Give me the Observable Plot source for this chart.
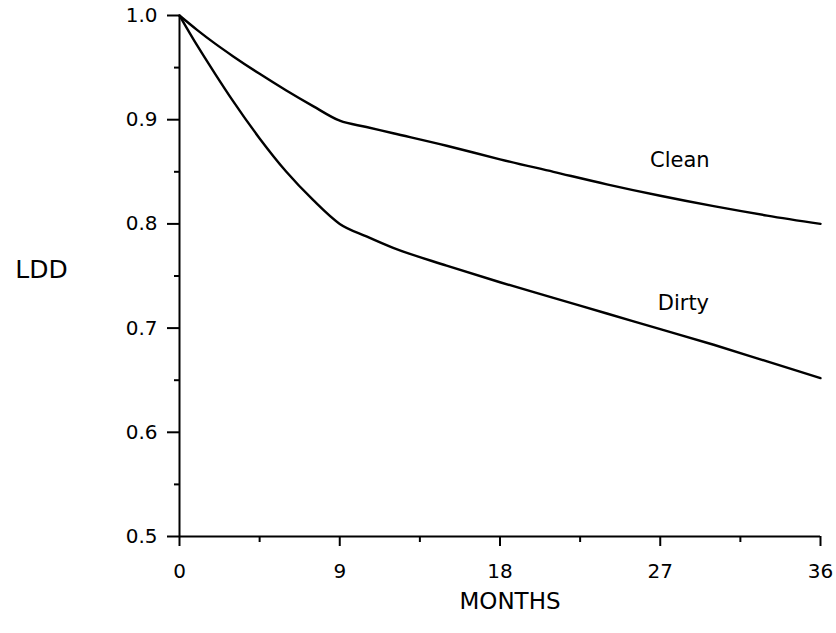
<!DOCTYPE html>
<html><head><meta charset="utf-8">
<script src="https://cdn.jsdelivr.net/npm/d3@7"></script>
<script src="https://cdn.jsdelivr.net/npm/@observablehq/plot@0.6"></script>
<style>body{margin:0;background:#fff} svg{display:block}</style>
</head><body><div id="chart"></div>
<script>
const months = [0, 1, 2, 3, 4.5, 6, 7.5, 9, 10.5, 12, 15, 18, 21, 24, 27, 30, 33, 36];
const clean  = [1.0, 0.986, 0.973, 0.961, 0.944, 0.928, 0.913, 0.899, 0.893, 0.887, 0.875, 0.862, 0.850, 0.838, 0.827, 0.817, 0.808, 0.80];
const dirty  = [1.0, 0.971, 0.944, 0.918, 0.882, 0.85, 0.823, 0.80, 0.788, 0.777, 0.760, 0.744, 0.729, 0.714, 0.699, 0.684, 0.668, 0.652];
const xTicks = [0, 9, 18, 27, 36];
const xMinor = [4.5, 13.5, 22.5, 31.5];
const yTicks = [0.5, 0.6, 0.7, 0.8, 0.9, 1.0];
const yMinor = [0.55, 0.65, 0.75, 0.85, 0.95];
const seriesNames = ["Clean", "Dirty"];
const labelMonth = [28.1, 28.3];
const labelValue = [0.861, 0.724];

const rows = [];
months.forEach((m, i) => {
  rows.push({series: "Clean", month: m, ldd: clean[i]});
  rows.push({series: "Dirty", month: m, ldd: dirty[i]});
});
const labels = seriesNames.map((s, i) => ({text: s, month: labelMonth[i], ldd: labelValue[i]}));

const font = "'DejaVu Sans', Verdana, sans-serif";
const chart = Plot.plot({
  width: 836,
  height: 633,
  marginLeft: 179,
  marginRight: 16,
  marginTop: 15,
  marginBottom: 97,
  style: {fontFamily: font, background: "#fff", color: "#000"},
  x: {domain: [0, 36]},
  y: {domain: [0.5, 1.0]},
  marks: [
    Plot.ruleX([0], {y1: 0.5, y2: 1.0, stroke: "#000", strokeWidth: 2}),
    Plot.ruleY([0.5], {x1: 0, x2: 36, stroke: "#000", strokeWidth: 2}),
    Plot.axisX({ticks: xTicks, tickSize: 10, tickPadding: 17, fontSize: 20, label: null, strokeWidth: 2}),
    Plot.axisX({ticks: xMinor, tickSize: 6, text: null, label: null, strokeWidth: 2}),
    Plot.axisY({ticks: yTicks, tickSize: 12, tickPadding: 10, fontSize: 20, tickFormat: d3.format(".1f"), label: null, strokeWidth: 2}),
    Plot.axisY({ticks: yMinor, tickSize: 5, text: null, label: null, strokeWidth: 2}),
    Plot.line(rows, {x: "month", y: "ldd", z: "series", stroke: "#000", strokeWidth: 2.4, curve: "monotone-x"}),
    Plot.text(labels, {x: "month", y: "ldd", text: "text", fontSize: 21, fill: "#000"}),
    Plot.text(["MONTHS"], {frameAnchor: "bottom", dx: 10, dy: 72, fontSize: 23, fill: "#000", style: {letterSpacing: "5px"}}),
    Plot.text(["LDD"], {frameAnchor: "left", dx: -138, dy: -6, fontSize: 25, fill: "#000", textAnchor: "middle"})
  ]
});
document.getElementById("chart").appendChild(chart);
</script>
</body></html>
